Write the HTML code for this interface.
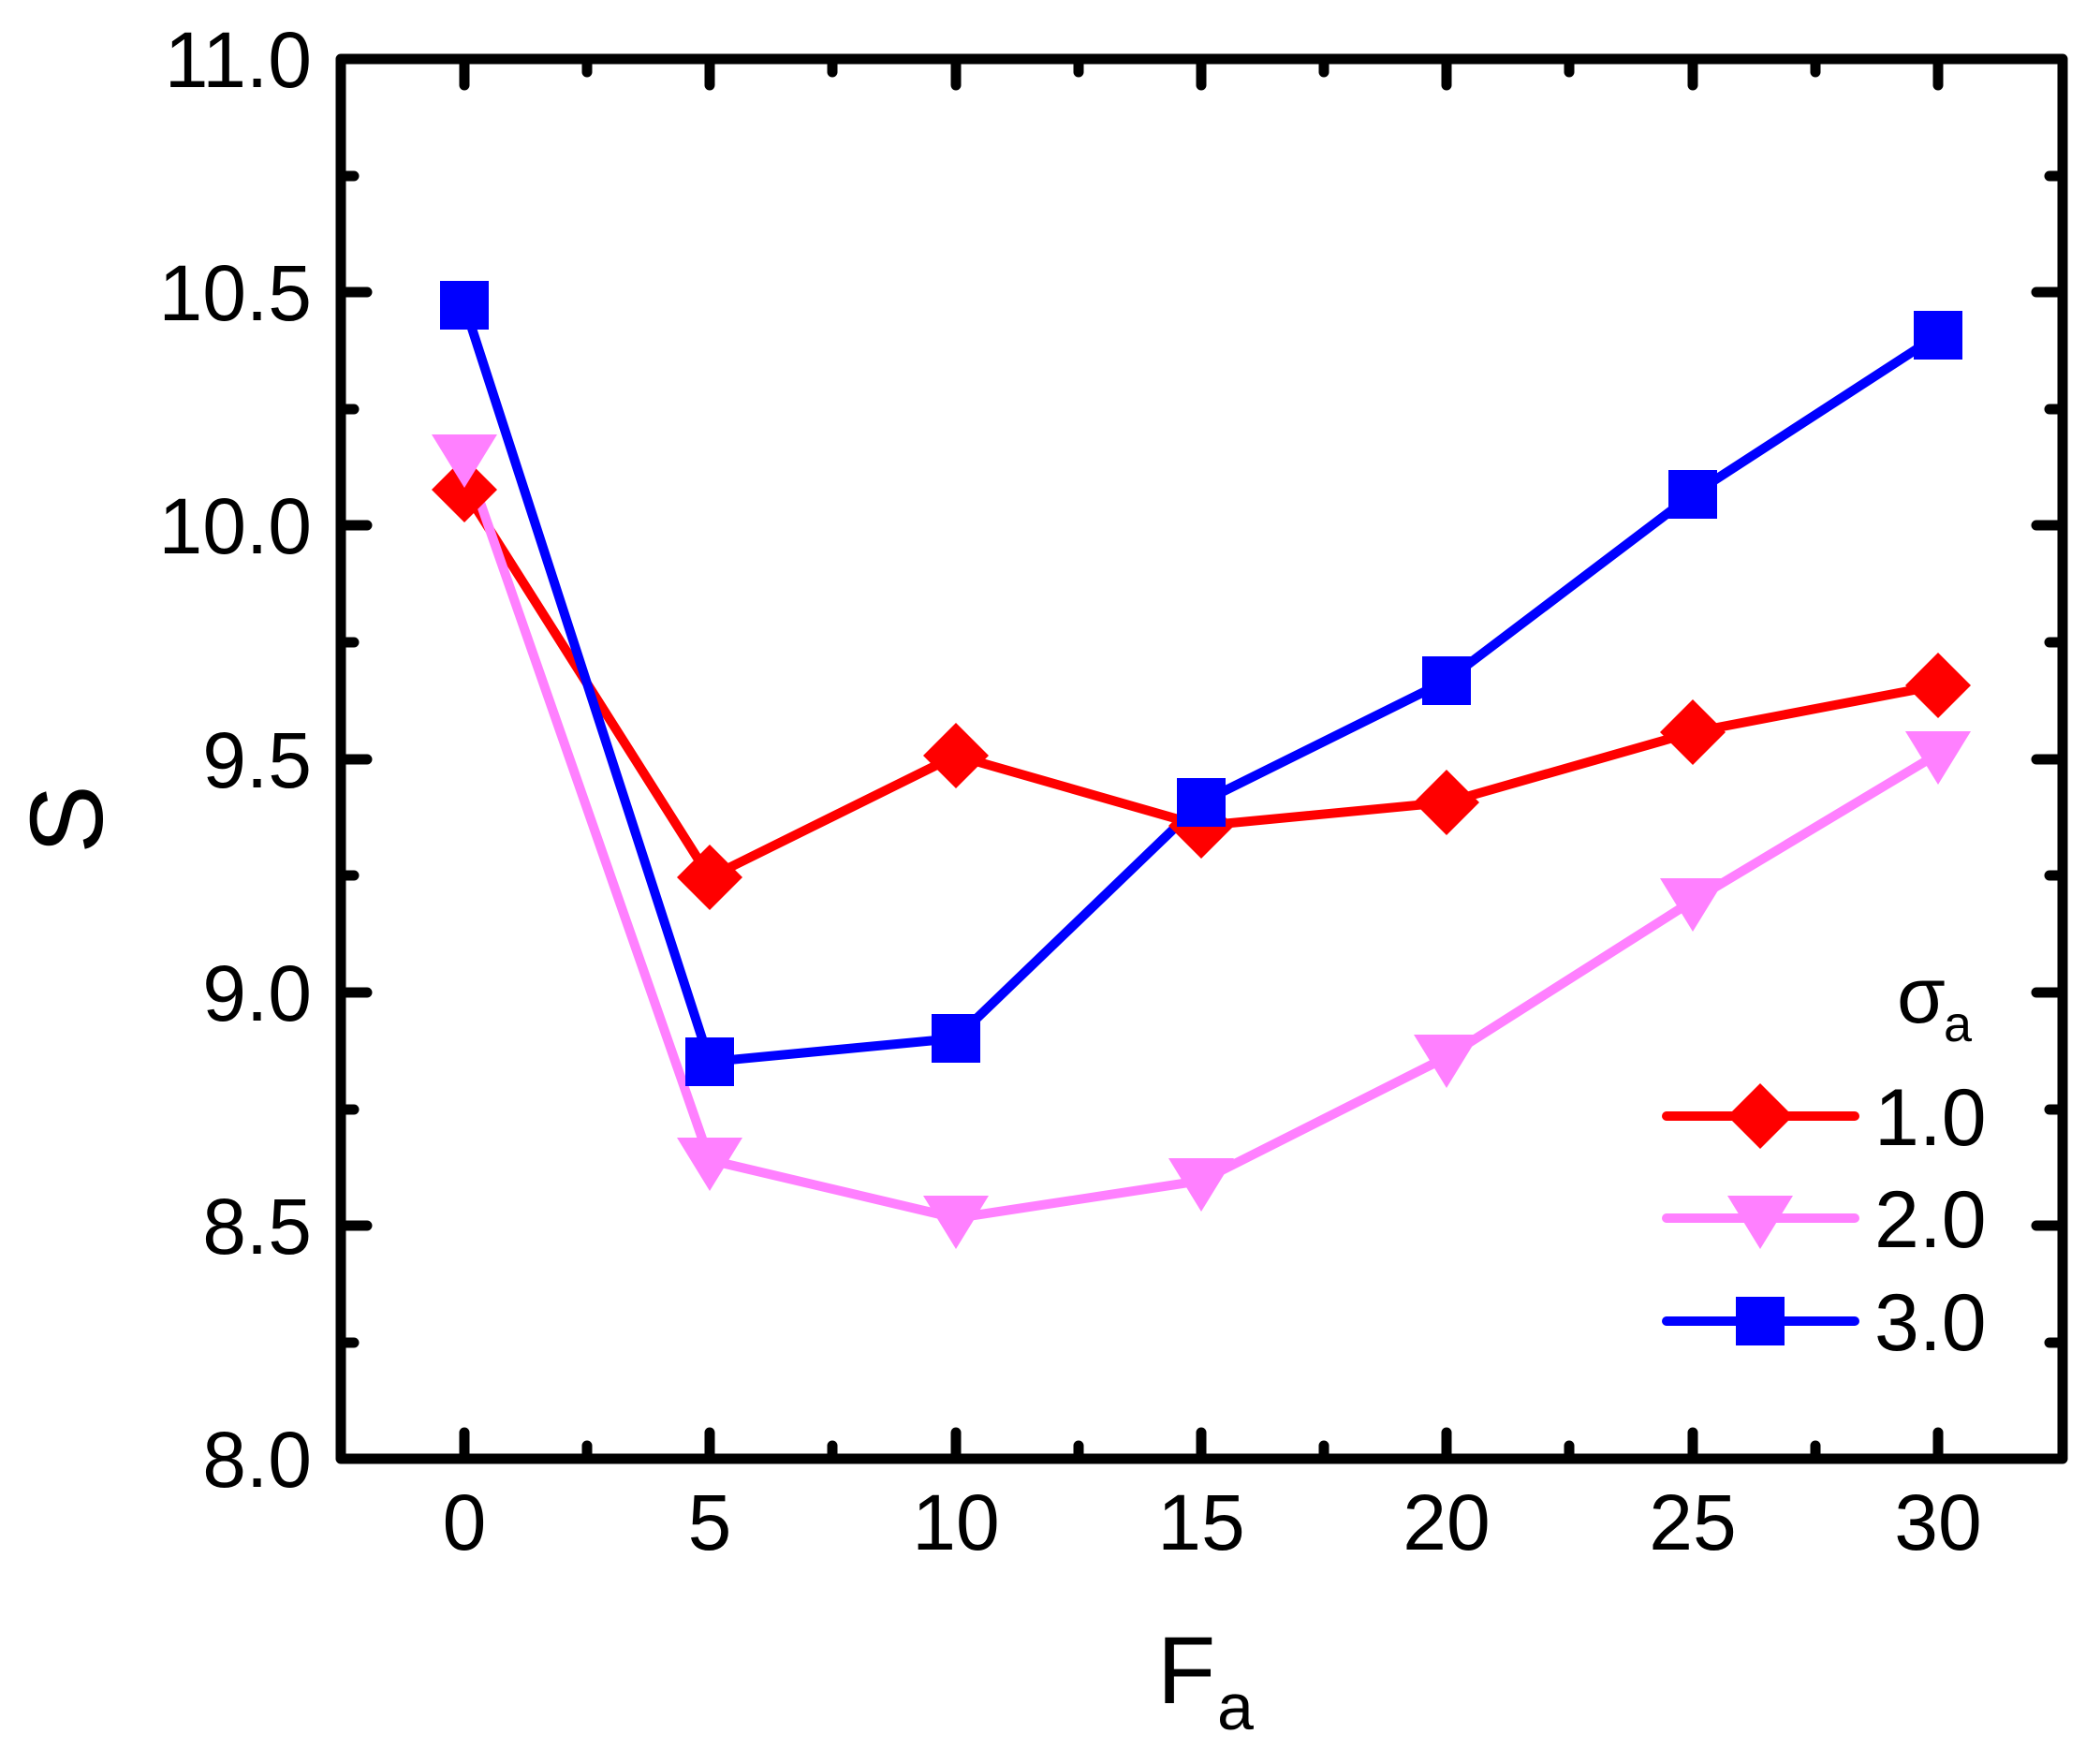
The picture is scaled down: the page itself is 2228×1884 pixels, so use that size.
<!DOCTYPE html>
<html><head><meta charset="utf-8"><style>
html,body{margin:0;padding:0;background:#fff;}
svg{display:block;}
text{font-family:"Liberation Sans",sans-serif;fill:#000;}
</style></head><body>
<svg width="2228" height="1884" viewBox="0 0 2228 1884" xmlns="http://www.w3.org/2000/svg">
<defs>
<path id="dia" d="M0,-35 L35,0 L0,35 L-35,0 Z"/>
<path id="tri" d="M-35,-24 L35,-24 L0,33 Z"/>
<rect id="sq" x="-26" y="-26" width="52" height="52"/>
</defs>
<g stroke="#000" stroke-width="11" stroke-linecap="round" fill="none">
<path d="M496,1558v-28M627,1558v-14M758,1558v-28M889,1558v-14M1021,1558v-28M1152,1558v-14M1283,1558v-28M1414,1558v-14M1545,1558v-28M1676,1558v-14M1808,1558v-28M1939,1558v-14M2070,1558v-28"/>
<path d="M496,63v28M627,63v14M758,63v28M889,63v14M1021,63v28M1152,63v14M1283,63v28M1414,63v14M1545,63v28M1676,63v14M1808,63v28M1939,63v14M2070,63v28"/>
<path d="M364,1434h14M364,1309h28M364,1185h14M364,1060h28M364,935h14M364,811h28M364,686h14M364,561h28M364,437h14M364,312h28M364,188h14"/>
<path d="M2203,1434h-14M2203,1309h-28M2203,1185h-14M2203,1060h-28M2203,935h-14M2203,811h-28M2203,686h-14M2203,561h-28M2203,437h-14M2203,312h-28M2203,188h-14"/>
</g>
<rect x="364" y="63" width="1839" height="1495" fill="none" stroke="#000" stroke-width="11" stroke-linejoin="round"/>
<g font-size="84" text-anchor="end">
<text x="333" y="1588">8.0</text><text x="333" y="1339">8.5</text><text x="333" y="1090">9.0</text>
<text x="333" y="841">9.5</text><text x="333" y="591">10.0</text><text x="333" y="342">10.5</text><text x="333" y="93">11.0</text>
</g>
<g font-size="84" text-anchor="middle">
<text x="496" y="1655">0</text><text x="758" y="1655">5</text><text x="1021" y="1655">10</text><text x="1283" y="1655">15</text>
<text x="1545" y="1655">20</text><text x="1808" y="1655">25</text><text x="2070" y="1655">30</text>
</g>
<text transform="translate(109,875) rotate(-90)" font-size="110" text-anchor="middle">S</text>
<text x="1236" y="1819" font-size="102">F</text><text x="1300" y="1847" font-size="70">a</text>
<g fill="none" stroke-width="10" stroke-linejoin="round">
<polyline stroke="#ff0000" points="496,523 758,937 1021,807 1283,882 1545,857 1808,782 2070,732"/>
<polyline stroke="#ff80ff" points="496,488 758,1239 1021,1301 1283,1261 1545,1129 1808,962 2070,805"/>
<polyline stroke="#0000ff" points="496,326 758,1134 1021,1109 1283,857 1545,727 1808,528 2070,358"/>
</g>
<g fill="#ff0000">
<use href="#dia" x="496" y="523"/><use href="#dia" x="758" y="937"/><use href="#dia" x="1021" y="807"/><use href="#dia" x="1283" y="882"/><use href="#dia" x="1545" y="857"/><use href="#dia" x="1808" y="782"/><use href="#dia" x="2070" y="732"/>
</g>
<g fill="#ff80ff">
<use href="#tri" x="496" y="488"/><use href="#tri" x="758" y="1239"/><use href="#tri" x="1021" y="1301"/><use href="#tri" x="1283" y="1261"/><use href="#tri" x="1545" y="1129"/><use href="#tri" x="1808" y="962"/><use href="#tri" x="2070" y="805"/>
</g>
<g fill="#0000ff">
<use href="#sq" x="496" y="326"/><use href="#sq" x="758" y="1134"/><use href="#sq" x="1021" y="1109"/><use href="#sq" x="1283" y="857"/><use href="#sq" x="1545" y="727"/><use href="#sq" x="1808" y="528"/><use href="#sq" x="2070" y="358"/>
</g>
<text x="2026" y="1092" font-size="84">σ</text><text x="2076" y="1112" font-size="54">a</text>
<g stroke-width="10" stroke-linecap="round">
<line x1="1780" y1="1192" x2="1981" y2="1192" stroke="#ff0000"/>
<line x1="1780" y1="1301" x2="1981" y2="1301" stroke="#ff80ff"/>
<line x1="1780" y1="1411" x2="1981" y2="1411" stroke="#0000ff"/>
</g>
<use href="#dia" x="1880" y="1192" fill="#ff0000"/>
<use href="#tri" x="1880" y="1301" fill="#ff80ff"/>
<use href="#sq" x="1880" y="1411" fill="#0000ff"/>
<g font-size="86">
<text x="2002" y="1223">1.0</text><text x="2002" y="1332">2.0</text><text x="2002" y="1442">3.0</text>
</g>
</svg>
</body></html>
